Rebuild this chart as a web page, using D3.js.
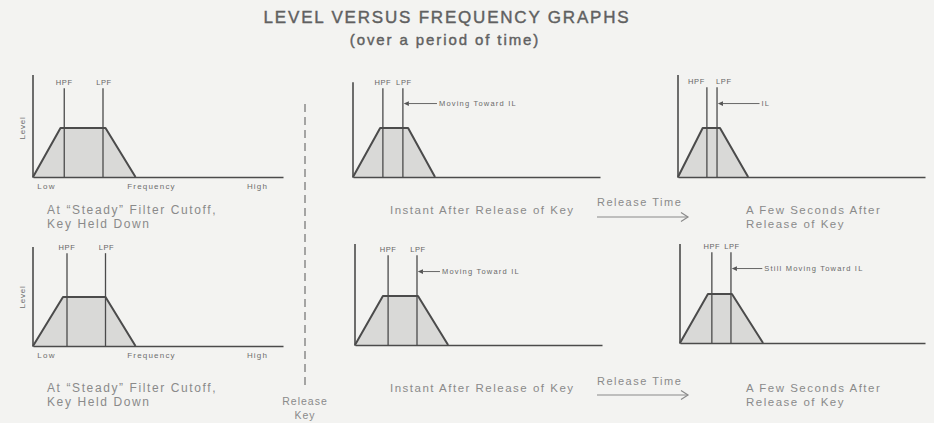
<!DOCTYPE html>
<html>
<head>
<meta charset="utf-8">
<script src="https://cdn.jsdelivr.net/npm/d3@7"></script>
<style>
  html, body { margin: 0; padding: 0; background: #f3f3f1; }
  svg { display: block; }
  text { font-family: "Liberation Sans", Arial, sans-serif; }
</style>
</head>
<body>
<svg id="chart" width="934" height="423"></svg>
<script>
// Six level-vs-frequency snapshots: top row then bottom row, left to right
const panelKeys = ["steadyTop", "instantTop", "secondsTop", "steadyBottom", "instantBottom", "secondsBottom"];

// Pass band outline (frequency, 0-100): start of rise, end of rise, end of plateau, end of fall
const bandFreqs = [
  [0, 11, 29, 41],
  [0, 11, 22.3, 33.2],
  [0, 10, 17, 28.4],
  [0, 12, 29, 41],
  [0, 11.3, 25.5, 37.7],
  [0, 11.4, 21.2, 33.9]
];
const bandLevels = [0, 48, 48, 0];

// Filter cutoff frequencies and the height their markers reach
const hpfFreqs = [12.5, 12.1, 11.7, 13.6, 13.4, 13];
const lpfFreqs = [28, 20.2, 15.8, 29, 25.1, 20.8];
const cutoffTopLevels = [87, 87, 88, 91, 88, 89];
const levelAxisTops = [100, 93, 100, 97, 99, 97];

// Annotation pointing at the low-pass cutoff
const noteTexts = [null, "Moving Toward IL", "IL", null, "Moving Toward IL", "Still Moving Toward IL"];
const noteLevels = [null, 72, 72, null, 72, 73];
const noteTailFreqs = [null, 34, 33, null, 34.4, 33.6];

// Frequency axis labels (left-hand panels only)
const freqTickValues = [5.2, 47.2, 89.6];
const freqTickLabels = ["Low", "Frequency", "High"];
const levelLabel = "Level";

// Captions under each column
const captionSteady = ["At \u201CSteady\u201D Filter Cutoff,", "Key Held Down"];
const captionInstant = ["Instant After Release of Key"];
const captionSeconds = ["A Few Seconds After", "Release of Key"];
const releaseTimeLabel = "Release Time";
const releaseKeyLabel = ["Release", "Key"];
const titleLines = ["LEVEL VERSUS FREQUENCY GRAPHS", "(over a period of time)"];

const svg = d3.select("#chart");
const ink = "#4b4b4b";
const grayText = "#8a8a8a";

// Layout: axis origin (left end of frequency axis, level zero) and axis width per panel
const panelOrigins = [[33, 177], [353, 177], [678, 177], [33, 346], [355, 345], [680, 343]];
const panelWidths = [250, 247, 247, 250, 247, 245];
const levelPx = 102; // pixels spanned by 100 level units

svg.append("rect").attr("width", 934).attr("height", 423).attr("fill", "#f3f3f1");

// Title (regular face with a thin outline for a medium weight)
svg.append("text").attr("x", 447).attr("y", 23).attr("text-anchor", "middle")
  .attr("font-size", 17).attr("letter-spacing", 1.8)
  .attr("fill", "#606060").attr("stroke", "#606060").attr("stroke-width", 0.4)
  .text(titleLines[0]);
svg.append("text").attr("x", 445).attr("y", 45).attr("text-anchor", "middle")
  .attr("font-size", 15).attr("letter-spacing", 1.9)
  .attr("fill", "#606060").attr("stroke", "#606060").attr("stroke-width", 0.4)
  .text(titleLines[1]);

panelKeys.forEach((key, i) => {
  const [ox, oy] = panelOrigins[i];
  const x = d3.scaleLinear().domain([0, 100]).range([0, panelWidths[i]]);
  const y = d3.scaleLinear().domain([0, 100]).range([0, -levelPx]);
  const g = svg.append("g").attr("class", key).attr("transform", `translate(${ox},${oy})`);
  const isLeft = i % 3 === 0;

  const pts = bandFreqs[i].map((f, j) => ({ f, l: bandLevels[j] }));

  // shaded pass band
  g.append("path")
    .attr("d", d3.area().x(d => x(d.f)).y0(y(0)).y1(d => y(d.l))(pts))
    .attr("fill", "#d9d9d7");

  // filter cutoff markers
  [hpfFreqs[i], lpfFreqs[i]].forEach(f => {
    g.append("line")
      .attr("x1", x(f)).attr("x2", x(f))
      .attr("y1", y(0)).attr("y2", y(cutoffTopLevels[i]))
      .attr("stroke", ink).attr("stroke-width", 1.3);
  });

  // band outline
  g.append("path")
    .attr("d", d3.line().x(d => x(d.f)).y(d => y(d.l))(pts))
    .attr("fill", "none").attr("stroke", ink).attr("stroke-width", 2)
    .attr("stroke-linejoin", "round");

  // cutoff labels; pushed apart when the markers sit close together
  const hx = x(hpfFreqs[i]), lx = x(lpfFreqs[i]);
  const tight = lx - hx < 18;
  const labelY = y(cutoffTopLevels[i]) - 3;
  g.append("text").attr("x", tight ? hx - 2 : hx).attr("y", labelY)
    .attr("text-anchor", tight ? "end" : "middle")
    .attr("font-size", 7.5).attr("letter-spacing", 0.6).attr("fill", "#666").text("HPF");
  g.append("text").attr("x", tight ? lx - 1 : lx + 1).attr("y", labelY)
    .attr("text-anchor", tight ? "start" : "middle")
    .attr("font-size", 7.5).attr("letter-spacing", 0.6).attr("fill", "#666").text("LPF");

  // frequency axis
  const xAxis = d3.axisBottom(x)
    .tickValues(isLeft ? freqTickValues : [])
    .tickFormat((d, k) => freqTickLabels[k])
    .tickSize(0).tickSizeOuter(0).tickPadding(6.5);
  const ax = g.append("g").call(xAxis);
  ax.select(".domain").attr("stroke", ink).attr("stroke-width", 1.6);
  ax.selectAll("text").attr("font-size", 8).attr("letter-spacing", 1.2)
    .attr("fill", "#6e6e6e").attr("font-family", "\"Liberation Sans\", Arial, sans-serif");

  // level axis
  g.append("line").attr("x1", 0).attr("x2", 0)
    .attr("y1", y(0) + 0.8).attr("y2", y(levelAxisTops[i]))
    .attr("stroke", ink).attr("stroke-width", 1.6);
  if (isLeft) {
    g.append("text")
      .attr("transform", `translate(-8,${y(48)}) rotate(-90)`)
      .attr("text-anchor", "middle")
      .attr("font-size", 8).attr("letter-spacing", 0.8).attr("fill", "#6e6e6e")
      .text(levelLabel);
  }

  // annotation arrow toward the LPF marker
  if (noteTexts[i]) {
    const ay = y(noteLevels[i]);
    const tx = x(noteTailFreqs[i]);
    g.append("path")
      .attr("d", `M${lx + 0.8},${ay} L${lx + 6},${ay - 2.4} L${lx + 6},${ay + 2.4} Z`)
      .attr("fill", "#555");
    g.append("line").attr("x1", lx + 5).attr("x2", tx).attr("y1", ay).attr("y2", ay)
      .attr("stroke", "#666").attr("stroke-width", 1);
    g.append("text").attr("x", tx + 2).attr("y", ay).attr("dy", "0.35em")
      .attr("font-size", 7.5).attr("letter-spacing", 1.2).attr("fill", "#6a6a6a")
      .text(noteTexts[i]);
  }
});

// Captions
function caption(lines, x0, y0, size, spacing, anchor) {
  lines.forEach((t, k) => {
    svg.append("text").attr("x", x0).attr("y", y0 + k * 14)
      .attr("text-anchor", anchor || "start")
      .attr("font-size", size).attr("letter-spacing", spacing)
      .attr("fill", grayText).text(t);
  });
}
[214, 392].forEach(cy => {
  caption(captionSteady, 47, cy, 12, 1.6);
  caption(captionInstant, 390, cy, 11.5, 1.5);
  caption(captionSeconds, 746, cy, 11.5, 1.5);
});
// "Release Time" arrows between middle and right columns
[[206, 217], [385, 395]].forEach(([ty, ay]) => {
  svg.append("text").attr("x", 597).attr("y", ty)
    .attr("font-size", 11).attr("letter-spacing", 1.5).attr("fill", grayText)
    .text(releaseTimeLabel);
  svg.append("line").attr("x1", 597).attr("x2", 688).attr("y1", ay).attr("y2", ay)
    .attr("stroke", "#8a8a8a").attr("stroke-width", 1.2);
  svg.append("path")
    .attr("d", `M681,${ay - 4.5} L688,${ay} L681,${ay + 4.5}`)
    .attr("fill", "none").attr("stroke", "#8a8a8a").attr("stroke-width", 1.2);
});

// Key-release divider
svg.append("line").attr("x1", 305).attr("x2", 305).attr("y1", 104).attr("y2", 390)
  .attr("stroke", "#7a7a7a").attr("stroke-width", 1.3).attr("stroke-dasharray", "8,5");
releaseKeyLabel.forEach((t, k) => {
  svg.append("text").attr("x", 305).attr("y", 405 + k * 14).attr("text-anchor", "middle")
    .attr("font-size", 10.5).attr("letter-spacing", 1).attr("fill", grayText).text(t);
});
</script>
</body>
</html>
